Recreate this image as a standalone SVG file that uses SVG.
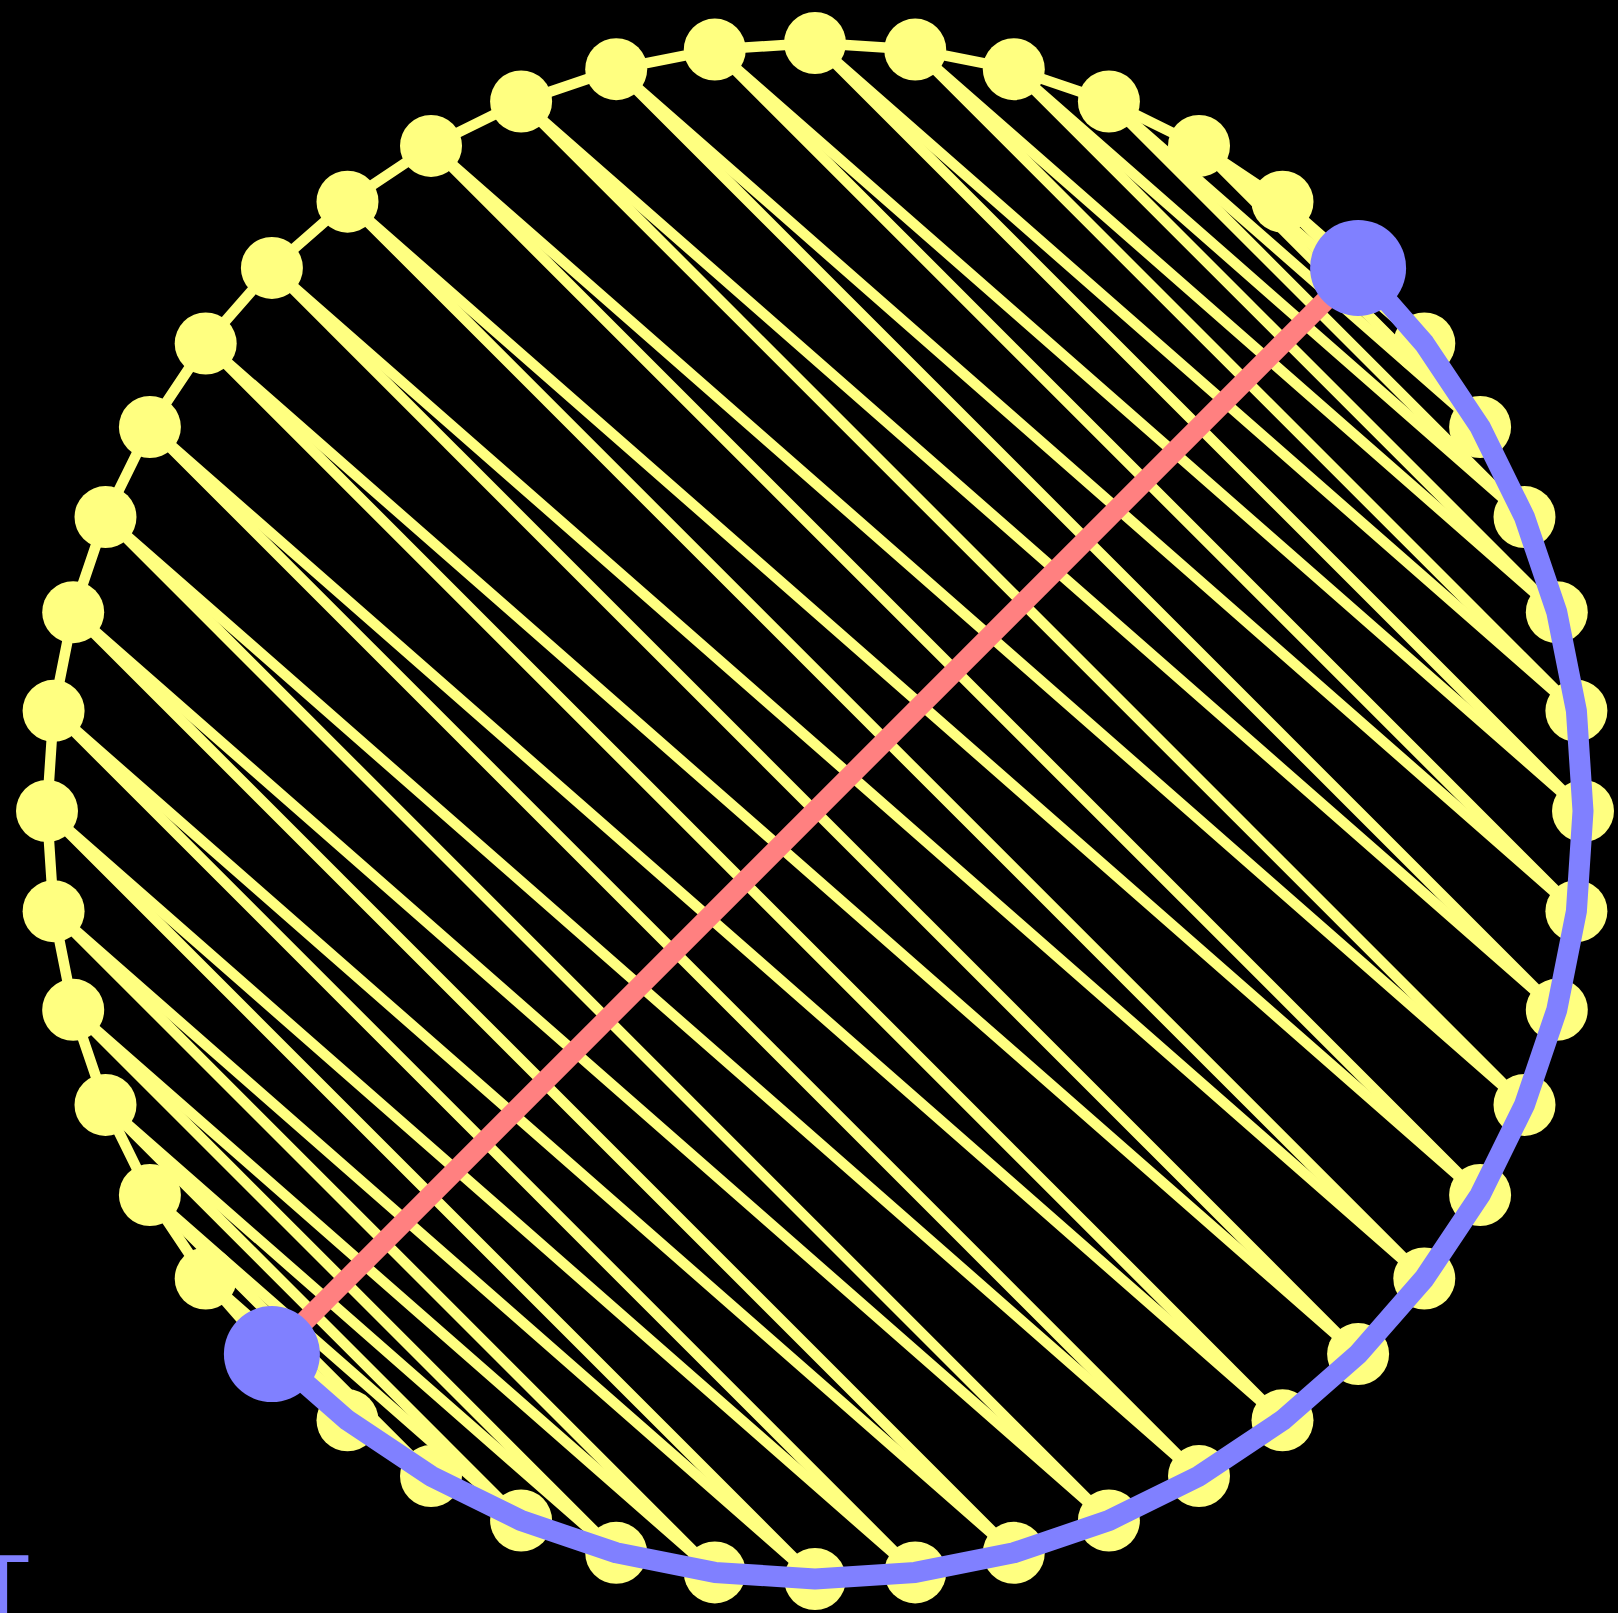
<svg xmlns="http://www.w3.org/2000/svg" width="1618" height="1613" viewBox="0 0 1618 1613">
<style>
.e{stroke:#ffff80;stroke-width:10.5;stroke-linecap:round;fill:none}
.n{fill:#ffff80}
.b{fill:#8080ff}
.red{stroke:#ff8080;stroke-width:20;stroke-linecap:round}
.arc{stroke:#8080ff;stroke-width:21;fill:none;stroke-linejoin:round;stroke-linecap:round}
.lbl{font-family:"DejaVu Sans",sans-serif;font-size:82px;fill:#8080ff}
</style>
<rect width="1618" height="1613" fill="#000"/>
<g id="connectors">
<g id="ring">
<line class="e" x1="815" y1="43" x2="915.2" y2="49.6"/>
<line class="e" x1="915.2" y1="49.6" x2="1013.8" y2="69.2"/>
<line class="e" x1="1013.8" y1="69.2" x2="1108.9" y2="101.5"/>
<line class="e" x1="1108.9" y1="101.5" x2="1199" y2="145.9"/>
<line class="e" x1="1199" y1="145.9" x2="1282.5" y2="201.7"/>
<line class="e" x1="1282.5" y1="201.7" x2="1358.1" y2="267.9"/>
<line class="e" x1="1358.1" y1="267.9" x2="1424.3" y2="343.5"/>
<line class="e" x1="1424.3" y1="343.5" x2="1480.1" y2="427"/>
<line class="e" x1="1480.1" y1="427" x2="1524.5" y2="517.1"/>
<line class="e" x1="1524.5" y1="517.1" x2="1556.8" y2="612.2"/>
<line class="e" x1="1556.8" y1="612.2" x2="1576.4" y2="710.8"/>
<line class="e" x1="1576.4" y1="710.8" x2="1583" y2="811"/>
<line class="e" x1="1583" y1="811" x2="1576.4" y2="911.2"/>
<line class="e" x1="1576.4" y1="911.2" x2="1556.8" y2="1009.8"/>
<line class="e" x1="1556.8" y1="1009.8" x2="1524.5" y2="1104.9"/>
<line class="e" x1="1524.5" y1="1104.9" x2="1480.1" y2="1195"/>
<line class="e" x1="1480.1" y1="1195" x2="1424.3" y2="1278.5"/>
<line class="e" x1="1424.3" y1="1278.5" x2="1358.1" y2="1354.1"/>
<line class="e" x1="1358.1" y1="1354.1" x2="1282.5" y2="1420.3"/>
<line class="e" x1="1282.5" y1="1420.3" x2="1199" y2="1476.1"/>
<line class="e" x1="1199" y1="1476.1" x2="1108.9" y2="1520.5"/>
<line class="e" x1="1108.9" y1="1520.5" x2="1013.8" y2="1552.8"/>
<line class="e" x1="1013.8" y1="1552.8" x2="915.2" y2="1572.4"/>
<line class="e" x1="915.2" y1="1572.4" x2="815" y2="1579"/>
<line class="e" x1="815" y1="1579" x2="714.8" y2="1572.4"/>
<line class="e" x1="714.8" y1="1572.4" x2="616.2" y2="1552.8"/>
<line class="e" x1="616.2" y1="1552.8" x2="521.1" y2="1520.5"/>
<line class="e" x1="521.1" y1="1520.5" x2="431" y2="1476.1"/>
<line class="e" x1="431" y1="1476.1" x2="347.5" y2="1420.3"/>
<line class="e" x1="347.5" y1="1420.3" x2="271.9" y2="1354.1"/>
<line class="e" x1="271.9" y1="1354.1" x2="205.7" y2="1278.5"/>
<line class="e" x1="205.7" y1="1278.5" x2="149.9" y2="1195"/>
<line class="e" x1="149.9" y1="1195" x2="105.5" y2="1104.9"/>
<line class="e" x1="105.5" y1="1104.9" x2="73.2" y2="1009.8"/>
<line class="e" x1="73.2" y1="1009.8" x2="53.6" y2="911.2"/>
<line class="e" x1="53.6" y1="911.2" x2="47" y2="811"/>
<line class="e" x1="47" y1="811" x2="53.6" y2="710.8"/>
<line class="e" x1="53.6" y1="710.8" x2="73.2" y2="612.2"/>
<line class="e" x1="73.2" y1="612.2" x2="105.5" y2="517.1"/>
<line class="e" x1="105.5" y1="517.1" x2="149.9" y2="427"/>
<line class="e" x1="149.9" y1="427" x2="205.7" y2="343.5"/>
<line class="e" x1="205.7" y1="343.5" x2="271.9" y2="267.9"/>
<line class="e" x1="271.9" y1="267.9" x2="347.5" y2="201.7"/>
<line class="e" x1="347.5" y1="201.7" x2="431" y2="145.9"/>
<line class="e" x1="431" y1="145.9" x2="521.1" y2="101.5"/>
<line class="e" x1="521.1" y1="101.5" x2="616.2" y2="69.2"/>
<line class="e" x1="616.2" y1="69.2" x2="714.8" y2="49.6"/>
<line class="e" x1="714.8" y1="49.6" x2="815" y2="43"/>
</g>
<g id="chords">
<line class="e" x1="815" y1="43" x2="1583" y2="811"/>
<line class="e" x1="915.2" y1="49.6" x2="1576.4" y2="710.8"/>
<line class="e" x1="1013.8" y1="69.2" x2="1556.8" y2="612.2"/>
<line class="e" x1="1108.9" y1="101.5" x2="1524.5" y2="517.1"/>
<line class="e" x1="1199" y1="145.9" x2="1480.1" y2="427"/>
<line class="e" x1="1282.5" y1="201.7" x2="1424.3" y2="343.5"/>
<line class="e" x1="1576.4" y1="911.2" x2="714.8" y2="49.6"/>
<line class="e" x1="1556.8" y1="1009.8" x2="616.2" y2="69.2"/>
<line class="e" x1="1524.5" y1="1104.9" x2="521.1" y2="101.5"/>
<line class="e" x1="1480.1" y1="1195" x2="431" y2="145.9"/>
<line class="e" x1="1424.3" y1="1278.5" x2="347.5" y2="201.7"/>
<line class="e" x1="1358.1" y1="1354.1" x2="271.9" y2="267.9"/>
<line class="e" x1="1282.5" y1="1420.3" x2="205.7" y2="343.5"/>
<line class="e" x1="1199" y1="1476.1" x2="149.9" y2="427"/>
<line class="e" x1="1108.9" y1="1520.5" x2="105.5" y2="517.1"/>
<line class="e" x1="1013.8" y1="1552.8" x2="73.2" y2="612.2"/>
<line class="e" x1="915.2" y1="1572.4" x2="53.6" y2="710.8"/>
<line class="e" x1="815" y1="1579" x2="47" y2="811"/>
<line class="e" x1="714.8" y1="1572.4" x2="53.6" y2="911.2"/>
<line class="e" x1="616.2" y1="1552.8" x2="73.2" y2="1009.8"/>
<line class="e" x1="521.1" y1="1520.5" x2="105.5" y2="1104.9"/>
<line class="e" x1="431" y1="1476.1" x2="149.9" y2="1195"/>
<line class="e" x1="347.5" y1="1420.3" x2="205.7" y2="1278.5"/>
<line class="e" x1="815" y1="43" x2="1576.4" y2="710.8"/>
<line class="e" x1="915.2" y1="49.6" x2="1556.8" y2="612.2"/>
<line class="e" x1="1013.8" y1="69.2" x2="1524.5" y2="517.1"/>
<line class="e" x1="1108.9" y1="101.5" x2="1480.1" y2="427"/>
<line class="e" x1="1199" y1="145.9" x2="1424.3" y2="343.5"/>
<line class="e" x1="1583" y1="811" x2="714.8" y2="49.6"/>
<line class="e" x1="1576.4" y1="911.2" x2="616.2" y2="69.2"/>
<line class="e" x1="1556.8" y1="1009.8" x2="521.1" y2="101.5"/>
<line class="e" x1="1524.5" y1="1104.9" x2="431" y2="145.9"/>
<line class="e" x1="1480.1" y1="1195" x2="347.5" y2="201.7"/>
<line class="e" x1="1424.3" y1="1278.5" x2="271.9" y2="267.9"/>
<line class="e" x1="1358.1" y1="1354.1" x2="205.7" y2="343.5"/>
<line class="e" x1="1282.5" y1="1420.3" x2="149.9" y2="427"/>
<line class="e" x1="1199" y1="1476.1" x2="105.5" y2="517.1"/>
<line class="e" x1="1108.9" y1="1520.5" x2="73.2" y2="612.2"/>
<line class="e" x1="1013.8" y1="1552.8" x2="53.6" y2="710.8"/>
<line class="e" x1="915.2" y1="1572.4" x2="47" y2="811"/>
<line class="e" x1="815" y1="1579" x2="53.6" y2="911.2"/>
<line class="e" x1="714.8" y1="1572.4" x2="73.2" y2="1009.8"/>
<line class="e" x1="616.2" y1="1552.8" x2="105.5" y2="1104.9"/>
<line class="e" x1="521.1" y1="1520.5" x2="149.9" y2="1195"/>
<line class="e" x1="431" y1="1476.1" x2="205.7" y2="1278.5"/>
</g>
</g>
<g id="nodes">
<g id="n0"><circle class="n" cx="815" cy="43" r="31"/></g>
<g id="n1"><circle class="n" cx="915.2" cy="49.6" r="31"/></g>
<g id="n2"><circle class="n" cx="1013.8" cy="69.2" r="31"/></g>
<g id="n3"><circle class="n" cx="1108.9" cy="101.5" r="31"/></g>
<g id="n4"><circle class="n" cx="1199" cy="145.9" r="31"/></g>
<g id="n5"><circle class="n" cx="1282.5" cy="201.7" r="31"/></g>
<g id="n7"><circle class="n" cx="1424.3" cy="343.5" r="31"/></g>
<g id="n8"><circle class="n" cx="1480.1" cy="427" r="31"/></g>
<g id="n9"><circle class="n" cx="1524.5" cy="517.1" r="31"/></g>
<g id="n10"><circle class="n" cx="1556.8" cy="612.2" r="31"/></g>
<g id="n11"><circle class="n" cx="1576.4" cy="710.8" r="31"/></g>
<g id="n12"><circle class="n" cx="1583" cy="811" r="31"/></g>
<g id="n13"><circle class="n" cx="1576.4" cy="911.2" r="31"/></g>
<g id="n14"><circle class="n" cx="1556.8" cy="1009.8" r="31"/></g>
<g id="n15"><circle class="n" cx="1524.5" cy="1104.9" r="31"/></g>
<g id="n16"><circle class="n" cx="1480.1" cy="1195" r="31"/></g>
<g id="n17"><circle class="n" cx="1424.3" cy="1278.5" r="31"/></g>
<g id="n18"><circle class="n" cx="1358.1" cy="1354.1" r="31"/></g>
<g id="n19"><circle class="n" cx="1282.5" cy="1420.3" r="31"/></g>
<g id="n20"><circle class="n" cx="1199" cy="1476.1" r="31"/></g>
<g id="n21"><circle class="n" cx="1108.9" cy="1520.5" r="31"/></g>
<g id="n22"><circle class="n" cx="1013.8" cy="1552.8" r="31"/></g>
<g id="n23"><circle class="n" cx="915.2" cy="1572.4" r="31"/></g>
<g id="n24"><circle class="n" cx="815" cy="1579" r="31"/></g>
<g id="n25"><circle class="n" cx="714.8" cy="1572.4" r="31"/></g>
<g id="n26"><circle class="n" cx="616.2" cy="1552.8" r="31"/></g>
<g id="n27"><circle class="n" cx="521.1" cy="1520.5" r="31"/></g>
<g id="n28"><circle class="n" cx="431" cy="1476.1" r="31"/></g>
<g id="n29"><circle class="n" cx="347.5" cy="1420.3" r="31"/></g>
<g id="n31"><circle class="n" cx="205.7" cy="1278.5" r="31"/></g>
<g id="n32"><circle class="n" cx="149.9" cy="1195" r="31"/></g>
<g id="n33"><circle class="n" cx="105.5" cy="1104.9" r="31"/></g>
<g id="n34"><circle class="n" cx="73.2" cy="1009.8" r="31"/></g>
<g id="n35"><circle class="n" cx="53.6" cy="911.2" r="31"/></g>
<g id="n36"><circle class="n" cx="47" cy="811" r="31"/></g>
<g id="n37"><circle class="n" cx="53.6" cy="710.8" r="31"/></g>
<g id="n38"><circle class="n" cx="73.2" cy="612.2" r="31"/></g>
<g id="n39"><circle class="n" cx="105.5" cy="517.1" r="31"/></g>
<g id="n40"><circle class="n" cx="149.9" cy="427" r="31"/></g>
<g id="n41"><circle class="n" cx="205.7" cy="343.5" r="31"/></g>
<g id="n42"><circle class="n" cx="271.9" cy="267.9" r="31"/></g>
<g id="n43"><circle class="n" cx="347.5" cy="201.7" r="31"/></g>
<g id="n44"><circle class="n" cx="431" cy="145.9" r="31"/></g>
<g id="n45"><circle class="n" cx="521.1" cy="101.5" r="31"/></g>
<g id="n46"><circle class="n" cx="616.2" cy="69.2" r="31"/></g>
<g id="n47"><circle class="n" cx="714.8" cy="49.6" r="31"/></g>
</g>
<g id="highlight-connectors">
<line class="red" x1="1358.1" y1="267.9" x2="271.9" y2="1354.1"/>
<polyline class="arc" points="1358.1,267.9 1424.3,343.5 1480.1,427 1524.5,517.1 1556.8,612.2 1576.4,710.8 1583,811 1576.4,911.2 1556.8,1009.8 1524.5,1104.9 1480.1,1195 1424.3,1278.5 1358.1,1354.1 1282.5,1420.3 1199,1476.1 1108.9,1520.5 1013.8,1552.8 915.2,1572.4 815,1579 714.8,1572.4 616.2,1552.8 521.1,1520.5 431,1476.1 347.5,1420.3 271.9,1354.1"/>
</g>
<g id="n6"><circle class="b" cx="1358.1" cy="267.9" r="48"/></g>
<g id="n30"><circle class="b" cx="271.9" cy="1354.1" r="48"/></g>
<g id="label"><text class="lbl" x="-22" y="1615">T</text></g>
</svg>
